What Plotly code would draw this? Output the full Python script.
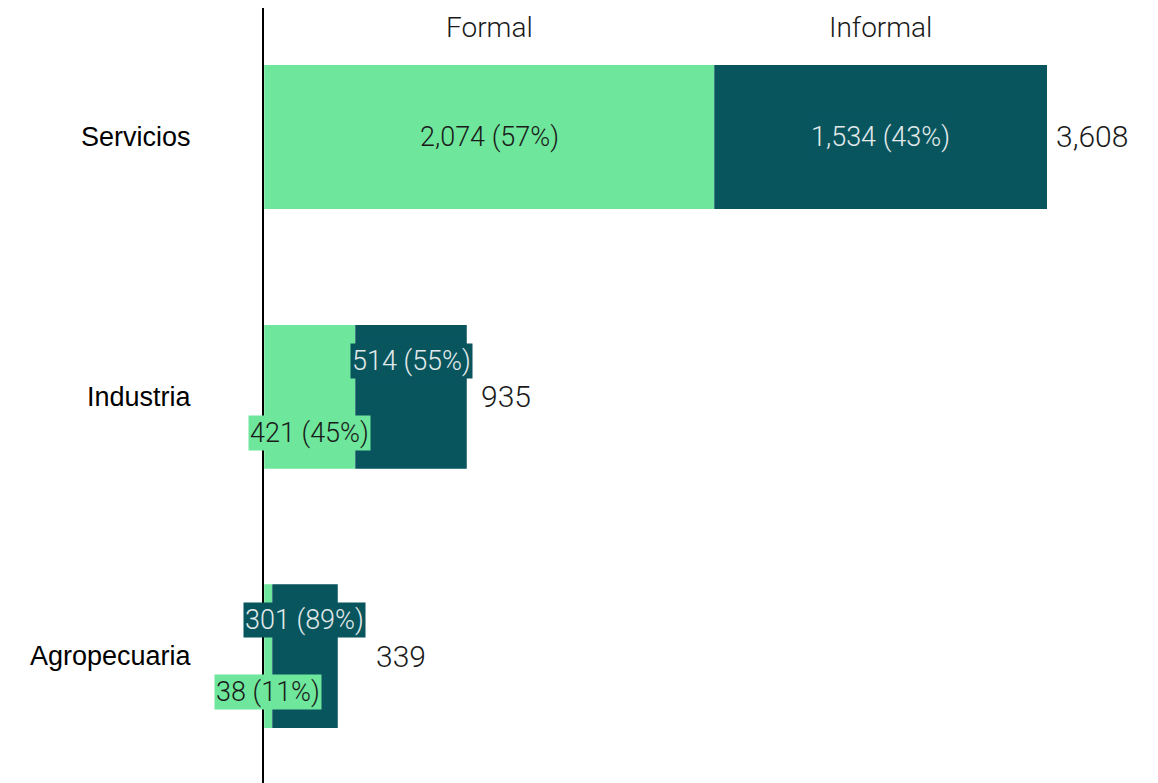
import plotly.graph_objects as go

categories = ["Servicios", "Industria", "Agropecuaria"]
formal = [2074, 421, 38]
informal = [1534, 514, 301]
series_names = ["Formal", "Informal"]

# style
colors = ["#6EE69B", "#08555E"]
text_colors = ["#1a1a1a", "#E3EAEA"]
label_shift = [0, 36, 36]        # vertical offset (px) of labels for narrow bars
total_xshift = [7, 12, 36]
TICK_FONT = "Liberation Sans"
FONT = "Roboto"
W = 300

totals = [f + i for f, i in zip(formal, informal)]

fig = go.Figure()
for name, vals, col in zip(series_names, [formal, informal], colors):
    fig.add_trace(go.Bar(
        name=name, x=vals, y=categories, orientation="h",
        marker=dict(color=col, line=dict(color="rgba(255,255,255,0.4)", width=0.6)),
        width=0.555, showlegend=False, hoverinfo="skip",
    ))

annotations = []
for k, cat in enumerate(categories):
    f, i, t = formal[k], informal[k], totals[k]
    pf = round(100 * f / t)
    pi = round(100 * i / t)
    annotations.append(dict(
        x=f / 2, y=cat, xref="x", yref="y", text=f"{f:,} ({pf}%)",
        showarrow=False, yshift=-label_shift[k], bgcolor=colors[0],
        font=dict(family=FONT, size=27, weight=W, color=text_colors[0]),
    ))
    annotations.append(dict(
        x=f + i / 2, y=cat, xref="x", yref="y", text=f"{i:,} ({pi}%)",
        showarrow=False, yshift=label_shift[k], bgcolor=colors[1],
        font=dict(family=FONT, size=27, weight=W, color=text_colors[1]),
    ))
    annotations.append(dict(
        x=t, y=cat, xref="x", yref="y", text=f"{t:,}", xanchor="left",
        showarrow=False, xshift=total_xshift[k],
        font=dict(family=FONT, size=30, weight=W, color="#1a1a1a"),
    ))

# column headers over the first category's segments
for name, xc in zip(series_names, [formal[0] / 2, formal[0] + informal[0] / 2]):
    annotations.append(dict(x=xc, y=0.9757, xref="x", yref="paper",
                            text=name, showarrow=False, yanchor="middle",
                            font=dict(family=FONT, size=28, weight=W, color="#1a1a1a")))

fig.update_layout(
    barmode="stack",
    width=1158, height=783,
    margin=dict(l=256, r=0, t=0, b=0),
    paper_bgcolor="white", plot_bgcolor="white",
    font=dict(family=FONT, size=26, color="black"),
    annotations=annotations,
    xaxis=dict(range=[0, 4156], showticklabels=False, showgrid=False,
               zeroline=False, showline=False),
    yaxis=dict(type="category", categoryorder="array", categoryarray=categories,
               range=[2.520, -0.497], showgrid=False, zeroline=False,
               showline=True, linecolor="black", linewidth=2,
               ticks="", ticklabelstandoff=66,
               tickfont=dict(family=TICK_FONT, size=27, color="black")),
)

fig.write_html("out.html")
